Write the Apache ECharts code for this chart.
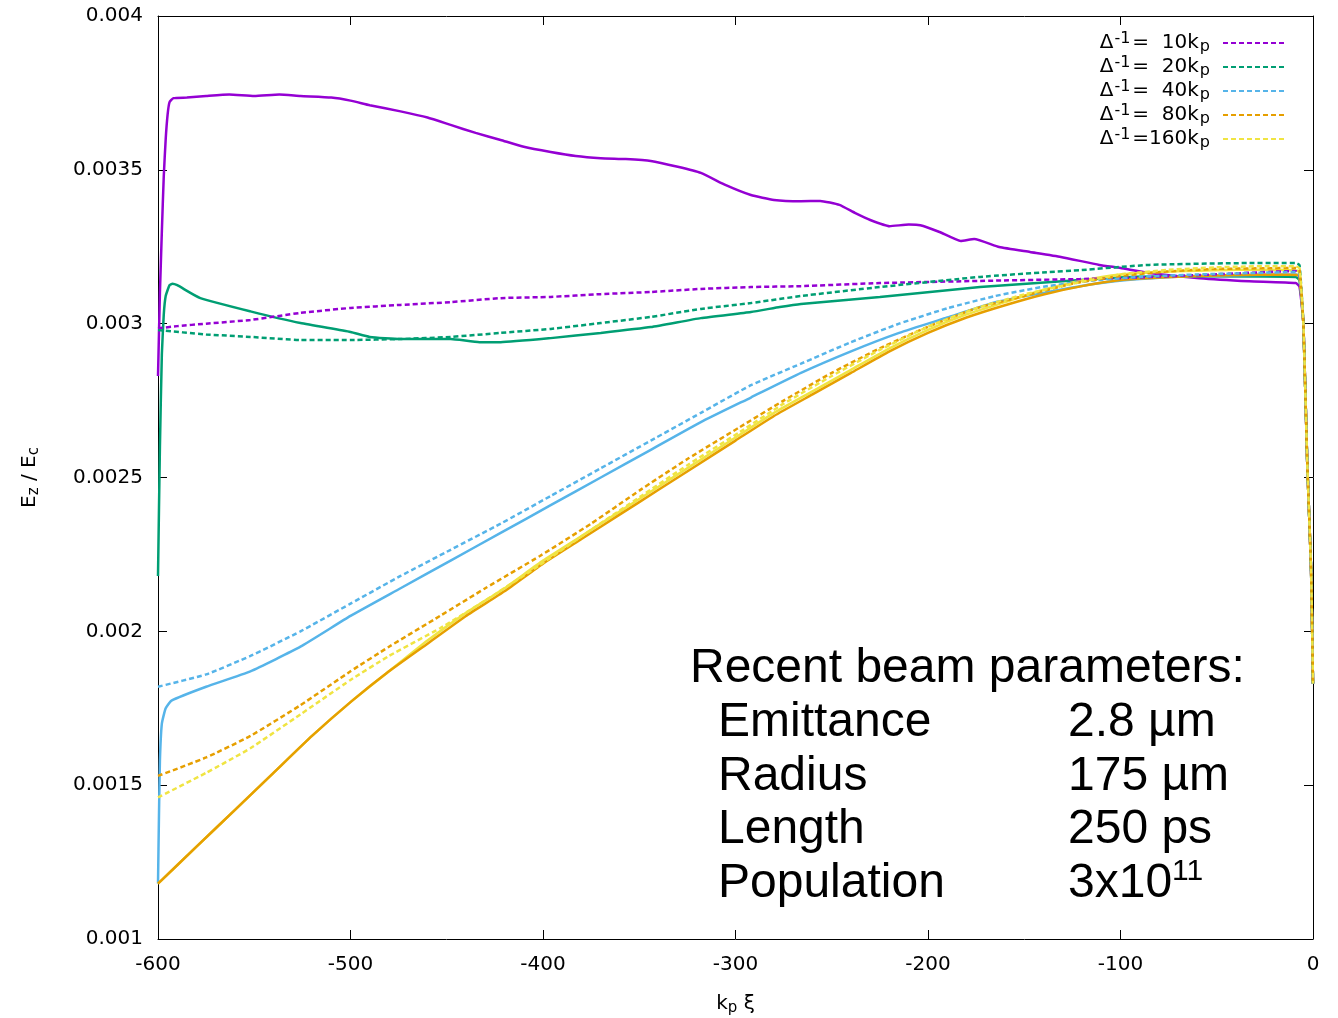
<!DOCTYPE html>
<html>
<head>
<meta charset="utf-8">
<script src="https://cdn.jsdelivr.net/npm/echarts@6/dist/echarts.min.js"></script>
<style>
html, body { margin: 0; padding: 0; background: #fff; }
#chart { width: 1338px; height: 1018px; }
</style>
</head>
<body>
<div id="chart"></div>
<script>
// Axis ticks
const xTickLabels = ['-600', '-500', '-400', '-300', '-200', '-100', '0'];
const yTickLabels = ['0.001', '0.0015', '0.002', '0.0025', '0.003', '0.0035', '0.004'];

// Legend entries (dashed runs): Δ^-1 in units of k_p
const legendKeys = ['10', '20', '40', '80', '160'];
const legendTexts = ['=  10k', '=  20k', '=  40k', '=  80k', '=160k'];

// Common fall of the field at the head of the window
const tailDrop = [[-5, 0.00300], [-3, 0.00255], [-1, 0.00220], [0, 0.00183]];

// Solid curves
const solid10 = [[-600,0.00283],[-599,0.0031],[-598,0.0033],[-597,0.00348],[-596,0.0036],[-595,0.00368],[-594,0.00372],[-592,0.003733],[-585,0.003735],[-575,0.00374],[-563,0.003745],[-550,0.00374],[-537,0.003745],[-526,0.00374],[-510,0.003735],[-500,0.003725],[-490,0.00371],[-474,0.00369],[-460,0.00367],[-448,0.003646],[-435,0.00362],[-422,0.003597],[-410,0.003575],[-396,0.003558],[-383,0.003545],[-370,0.003538],[-357,0.003535],[-344,0.003529],[-330,0.00351],[-318,0.00349],[-305,0.00345],[-292,0.003418],[-280,0.003402],[-266,0.003398],[-256,0.003399],[-246,0.003386],[-238,0.00336],[-230,0.003337],[-220,0.003317],[-210,0.003322],[-204,0.00332],[-194,0.003298],[-183,0.003269],[-176,0.003275],[-163,0.003249],[-147,0.003233],[-131,0.003217],[-111,0.003191],[-100,0.003181],[-85,0.003165],[-59,0.003148],[-33,0.003138],[-9,0.003132],[-7,0.00312]];
const solid20 = [[-600,0.00218],[-599,0.0026],[-598,0.0029],[-597,0.00303],[-596,0.00309],[-594,0.003125],[-592.5,0.00313],[-590,0.003125],[-578,0.003083],[-552,0.00304],[-526,0.003002],[-500,0.002973],[-490,0.002957],[-474,0.00295],[-448,0.00295],[-433,0.00294],[-422,0.00294],[-396,0.002953],[-370,0.00297],[-344,0.002989],[-318,0.003018],[-292,0.003038],[-277,0.003054],[-266,0.003064],[-225,0.003087],[-173,0.003119],[-121,0.003142],[-95,0.003152],[-60,0.003154],[-9,0.003152],[-7,0.00314]];
const solid40 = [[-600,0.00118],[-599.5,0.0014],[-599,0.00158],[-598,0.0017],[-596,0.00175],[-593,0.001775],[-575,0.00182],[-552,0.00187],[-526,0.00195],[-500,0.00205],[-474,0.00214],[-448,0.00223],[-422,0.00232],[-396,0.00241],[-370,0.0025],[-344,0.00259],[-318,0.00268],[-292,0.00276],[-266,0.00284],[-240,0.00291],[-215,0.00297],[-190,0.00302],[-165,0.00307],[-140,0.0031],[-115,0.003128],[-90,0.003145],[-60,0.003155],[-30,0.003158],[-9,0.00316],[-7,0.003152]];
const solid80 = [[-600,0.00118],[-580,0.0013],[-560,0.00142],[-540,0.00154],[-520,0.00166],[-500,0.00177],[-480,0.00187],[-460,0.00196],[-440,0.00205],[-420,0.00213],[-400,0.00222],[-380,0.0023],[-360,0.00238],[-340,0.00246],[-320,0.00254],[-300,0.00262],[-280,0.0027],[-260,0.00277],[-240,0.00284],[-220,0.00291],[-200,0.00297],[-180,0.00302],[-160,0.00306],[-140,0.003095],[-120,0.003122],[-100,0.003142],[-80,0.00315],[-60,0.003155],[-40,0.003158],[-20,0.00316],[-8,0.003158],[-7,0.003152]];
const solid160 = [[-600,0.00118],[-580,0.0013],[-560,0.00142],[-540,0.00154],[-520,0.00166],[-500,0.00177],[-480,0.00187],[-460,0.00197],[-440,0.00206],[-420,0.00214],[-400,0.00223],[-380,0.00231],[-360,0.00239],[-340,0.00247],[-320,0.00255],[-300,0.00263],[-280,0.00271],[-260,0.00278],[-240,0.00285],[-220,0.00292],[-200,0.00298],[-180,0.00303],[-160,0.00307],[-140,0.00311],[-120,0.00314],[-100,0.00316],[-80,0.003168],[-60,0.003172],[-40,0.003175],[-20,0.003175],[-8,0.003172],[-7,0.003165]];

// Dashed curves (legend entries)
const dash10 = [[-600,0.002985],[-590,0.002992],[-575,0.003],[-552,0.003012],[-526,0.003035],[-500,0.003051],[-474,0.003061],[-448,0.00307],[-422,0.003083],[-396,0.003087],[-370,0.003096],[-344,0.003103],[-318,0.003113],[-292,0.003119],[-266,0.003122],[-225,0.003132],[-173,0.003139],[-121,0.003145],[-100,0.003148],[-59,0.003158],[-9,0.003171],[-7,0.00316]];
const dash20 = [[-600,0.002979],[-575,0.002965],[-552,0.002957],[-526,0.002947],[-500,0.002947],[-474,0.00295],[-448,0.002957],[-422,0.00297],[-396,0.002983],[-370,0.003002],[-344,0.003022],[-318,0.003048],[-292,0.003067],[-266,0.00309],[-225,0.003119],[-173,0.003152],[-137,0.003168],[-121,0.003174],[-85,0.003191],[-33,0.003197],[-9,0.003197],[-7,0.00319]];
const dash40 = [[-600,0.00182],[-575,0.00186],[-552,0.00192],[-526,0.002],[-500,0.00209],[-474,0.00218],[-448,0.002265],[-422,0.00235],[-396,0.00244],[-370,0.00253],[-344,0.00262],[-318,0.00271],[-292,0.0028],[-266,0.00287],[-240,0.00294],[-215,0.003],[-190,0.00305],[-165,0.00309],[-140,0.00312],[-115,0.00314],[-90,0.003152],[-60,0.00316],[-30,0.003165],[-9,0.003168],[-7,0.00316]];
const dash80 = [[-600,0.00153],[-575,0.00159],[-552,0.00166],[-526,0.00176],[-500,0.00187],[-480,0.00195],[-453.5,0.00205],[-430,0.00214],[-401.6,0.002245],[-375,0.00235],[-349.6,0.002459],[-325,0.00256],[-297.7,0.002664],[-275,0.00275],[-250,0.00284],[-225,0.00292],[-200,0.00299],[-175,0.00305],[-150,0.00309],[-125,0.00313],[-100,0.003155],[-75,0.00317],[-50,0.003178],[-25,0.00318],[-9,0.003181],[-7,0.003175]];
const dash160 = [[-600,0.00146],[-575,0.00154],[-552,0.00162],[-526,0.00173],[-500,0.001842],[-480,0.00192],[-453.5,0.00201],[-430,0.0021],[-401.6,0.002216],[-375,0.00233],[-349.6,0.002437],[-325,0.00254],[-297.7,0.002648],[-275,0.00274],[-250,0.00283],[-225,0.002915],[-200,0.00299],[-175,0.00305],[-150,0.003095],[-125,0.00313],[-100,0.00316],[-75,0.003175],[-50,0.003183],[-25,0.003187],[-9,0.003187],[-7,0.00318]];

// Beam parameter box
const beamTitle = 'Recent beam parameters:';
const beamNames = ['Emittance', 'Radius', 'Length', 'Population'];
const beamValues = [['2.8 µm', ''], ['175 µm', ''], ['250 ps', ''], ['3x10', '11']];

const COLORS = { c10: '#9400d3', c20: '#009e73', c40: '#56b4e9', c80: '#e69f00', c160: '#f0e442' };

function curve(name, data, color, dashed) {
  return {
    type: 'line',
    name: name,
    data: data.concat(tailDrop),
    symbol: 'none',
    showSymbol: false,
    smooth: 0.15,
    animation: false,
    lineStyle: { color: color, width: 2.5, type: dashed ? [5, 3] : 'solid' },
    itemStyle: { color: color },
    emphasis: { disabled: true }
  };
}

const series = [
  curve('solid 10', solid10, COLORS.c10, false),
  curve('solid 20', solid20, COLORS.c20, false),
  curve('solid 40', solid40, COLORS.c40, false),
  curve('solid 160', solid160, COLORS.c160, false),
  curve('solid 80', solid80, COLORS.c80, false),
  curve('10', dash10, COLORS.c10, true),
  curve('20', dash20, COLORS.c20, true),
  curve('40', dash40, COLORS.c40, true),
  curve('80', dash80, COLORS.c80, true),
  curve('160', dash160, COLORS.c160, true)
];

const tickFont = 'DejaVu Sans';
const annotFont = 'Liberation Sans';

const graphic = [];
const rowY = [669, 723, 777, 830, 884];
graphic.push({
  type: 'text', x: 690, y: rowY[0], silent: true,
  style: { text: beamTitle, fontFamily: annotFont, fontSize: 48, fill: '#000', align: 'left', verticalAlign: 'middle' }
});
beamNames.forEach(function (n, i) {
  graphic.push({
    type: 'text', x: 718, y: rowY[i + 1], silent: true,
    style: { text: n, fontFamily: annotFont, fontSize: 48, fill: '#000', align: 'left', verticalAlign: 'middle' }
  });
  const v = beamValues[i];
  graphic.push({
    type: 'text', x: 1068, y: rowY[i + 1], silent: true,
    style: {
      text: '{t|' + v[0] + '}' + (v[1] ? '{sup|' + v[1] + '}' : ''),
      fill: '#000', align: 'left', verticalAlign: 'middle',
      rich: {
        t: { fontFamily: annotFont, fontSize: 48, lineHeight: 54, verticalAlign: 'middle', fill: '#000' },
        sup: { fontFamily: annotFont, fontSize: 30, lineHeight: 30, verticalAlign: 'top', fill: '#000' }
      }
    }
  });
});

const chart = echarts.init(document.getElementById('chart'), null, { renderer: 'canvas' });
chart.setOption({
  animation: false,
  backgroundColor: '#fff',
  grid: { left: 158, right: 25, top: 16, bottom: 79, containLabel: false, outerBoundsMode: 'none' },
  legend: {
    data: legendKeys,
    orient: 'vertical',
    right: 47,
    top: 26,
    align: 'right',
    itemWidth: 62,
    itemHeight: 14,
    itemGap: 0,
    selectedMode: false,
    itemStyle: { opacity: 0 },
    formatter: function (name) {
      const i = legendKeys.indexOf(name);
      return '{t|Δ}{sup|-1}{t|' + legendTexts[i] + '}{sub|p}';
    },
    textStyle: {
      color: '#000',
      fontFamily: tickFont,
      fontSize: 20,
      padding: [0, 8, 0, 0],
      rich: {
        t: { fontFamily: tickFont, fontSize: 20, lineHeight: 24, verticalAlign: 'middle', color: '#000' },
        sup: { fontFamily: tickFont, fontSize: 16, lineHeight: 11, verticalAlign: 'top', color: '#000', padding: [0, 2, 0, 1] },
        sub: { fontFamily: tickFont, fontSize: 16, lineHeight: 13, verticalAlign: 'bottom', color: '#000', padding: [0, 0, 0, 1] }
      }
    }
  },
  xAxis: [
    {
      type: 'value', min: -600, max: 0, interval: 100, position: 'bottom',
      name: '{t|k}{sub|p}{t| ξ}', nameLocation: 'middle', nameGap: 53,
      nameTextStyle: {
        rich: {
          t: { fontFamily: tickFont, fontSize: 20, lineHeight: 24, verticalAlign: 'middle', color: '#000' },
          sub: { fontFamily: tickFont, fontSize: 15, lineHeight: 13, verticalAlign: 'bottom', color: '#000' }
        }
      },
      axisLine: { show: true, onZero: false, lineStyle: { color: '#000', width: 1 } },
      axisTick: { show: true, inside: true, length: 9, lineStyle: { color: '#000' } },
      axisLabel: {
        margin: 16, color: '#000', fontFamily: tickFont, fontSize: 20,
        formatter: function (v) { return xTickLabels[Math.round((v + 600) / 100)]; }
      },
      splitLine: { show: false }
    },
    {
      type: 'value', min: -600, max: 0, interval: 100, position: 'top',
      axisLine: { show: true, onZero: false, lineStyle: { color: '#000', width: 1 } },
      axisTick: { show: true, inside: true, length: 9, lineStyle: { color: '#000' } },
      axisLabel: { show: false },
      splitLine: { show: false }
    }
  ],
  yAxis: [
    {
      type: 'value', min: 0.001, max: 0.004, interval: 0.0005, position: 'left',
      name: '{t|E}{sub|z}{t| / E}{sub|c}', nameLocation: 'middle', nameGap: 116,
      nameTextStyle: {
        rich: {
          t: { fontFamily: tickFont, fontSize: 20, lineHeight: 24, verticalAlign: 'middle', color: '#000' },
          sub: { fontFamily: tickFont, fontSize: 15, lineHeight: 13, verticalAlign: 'bottom', color: '#000' }
        }
      },
      axisLine: { show: true, onZero: false, lineStyle: { color: '#000', width: 1 } },
      axisTick: { show: true, inside: true, length: 9, lineStyle: { color: '#000' } },
      axisLabel: {
        margin: 15, color: '#000', fontFamily: tickFont, fontSize: 20,
        formatter: function (v) { return yTickLabels[Math.round((v - 0.001) / 0.0005)]; }
      },
      splitLine: { show: false }
    },
    {
      type: 'value', min: 0.001, max: 0.004, interval: 0.0005, position: 'right',
      axisLine: { show: true, onZero: false, lineStyle: { color: '#000', width: 1 } },
      axisTick: { show: true, inside: true, length: 9, lineStyle: { color: '#000' } },
      axisLabel: { show: false },
      splitLine: { show: false }
    }
  ],
  series: series,
  graphic: graphic
});
</script>
</body>
</html>
